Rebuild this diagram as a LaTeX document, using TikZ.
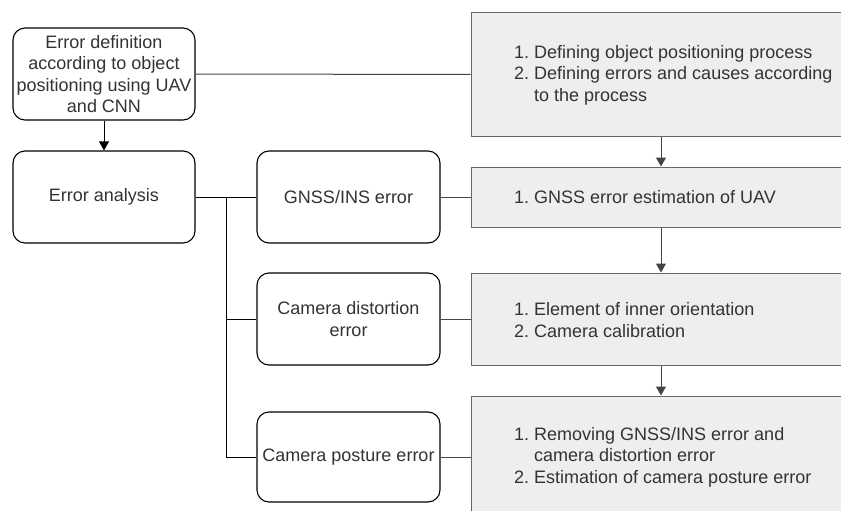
\documentclass[tikz,border=0pt]{standalone}
\usepackage{fontspec}
\setmainfont{Liberation Sans}
\usetikzlibrary{arrows.meta}
\definecolor{txt}{HTML}{333333}
\definecolor{panel}{HTML}{EEEEEE}
\definecolor{panelline}{HTML}{666666}
\definecolor{wire}{HTML}{444444}
\newcommand{\itemno}[1]{\makebox[20pt][l]{#1}}
\begin{document}
\begin{tikzpicture}[x=1pt,y=-1pt,
  every node/.style={font=\fontsize{18}{21.6}\selectfont, text=txt},
  leftbox/.style={draw=black, line width=1.1pt, fill=white, rounded corners=12pt,
    minimum width=182pt, align=center, inner sep=0pt},
  panelbox/.style={draw=panelline, line width=1pt, fill=panel,
    minimum width=380pt, inner sep=0pt},
  listtext/.style={anchor=west, inner sep=0pt, align=left},
  link/.style={draw=black, line width=1pt},
  pwire/.style={draw=wire, line width=1pt},
  tip/.style={-{Triangle[length=9pt,width=10pt]}}
]
\clip (0,0) rectangle (841,511);
\fill[white] (0,0) rectangle (841,511);

% left column: rounded process boxes
\node[leftbox, minimum height=92pt] (def) at (104,74)
  {Error definition\\according to object\\positioning using UAV\\and CNN};
\node[leftbox, minimum height=92pt] (ana) at (104,197) {Error analysis};

% middle column: error types
\node[leftbox, minimum width=183pt, minimum height=92pt] (gnss) at (348.5,197) {GNSS/INS error};
\node[leftbox, minimum width=183pt, minimum height=92pt] (dist) at (348.5,319) {Camera distortion\\error};
\node[leftbox, minimum width=183pt, minimum height=90pt] (post) at (348.5,457) {Camera posture error};

% right column: grey task panels
\node[panelbox, minimum height=123pt] (p1) at (661,74.5) {};
\node[panelbox, minimum height=60pt] (p2) at (661,197) {};
\node[panelbox, minimum height=92pt] (p3) at (661,319) {};
\node[panelbox, minimum height=122pt] (p4) at (661,457) {};

\node[listtext] (t1) at (514,75) {\itemno{1.}Defining object positioning process\\
\itemno{2.}Defining errors and causes according\\
\itemno{}to the process};
\node[listtext] (t2) at (514,197) {\itemno{1.}GNSS error estimation of UAV};
\node[listtext] (t3) at (514,320) {\itemno{1.}Element of inner orientation\\
\itemno{2.}Camera calibration};
\node[listtext] (t4) at (514,457) {\itemno{1.}Removing GNSS/INS error and\\
\itemno{}camera distortion error\\
\itemno{2.}Estimation of camera posture error};

% connectors of the left tree
\coordinate (fork) at (226,197);
\draw[link, tip] (def.south) -- (ana.north);
\draw[link] (ana.east) -- (gnss.west);
\draw[link] (fork) |- (dist.west);
\draw[link] (fork) |- (post.west);

% connectors to and between the panels
\draw[pwire] (def.east) -- (p1.west);
\draw[pwire] (gnss.east) -- (p2.west);
\draw[pwire] (dist.east) -- (p3.west);
\draw[pwire] (post.east) -- (p4.west);
\draw[pwire, tip] (p1.south) -- (p2.north);
\draw[pwire, tip] (p2.south) -- (p3.north);
\draw[pwire, tip] (p3.south) -- (p4.north);
\end{tikzpicture}
\end{document}
